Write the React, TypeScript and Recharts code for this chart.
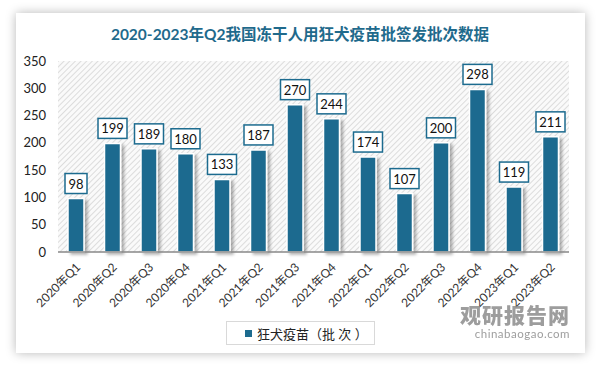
import { BarChart, Bar, XAxis, YAxis, CartesianGrid, LabelList } from "recharts";

const quarters = [
  "2020年Q1", "2020年Q2", "2020年Q3", "2020年Q4",
  "2021年Q1", "2021年Q2", "2021年Q3", "2021年Q4",
  "2022年Q1", "2022年Q2", "2022年Q3", "2022年Q4",
  "2023年Q1", "2023年Q2",
];
const batches = [98, 199, 189, 180, 133, 187, 270, 244, 174, 107, 200, 298, 119, 211];
const yTicks = [0, 50, 100, 150, 200, 250, 300, 350];

const BLUE = "#1c6b8f";
const FONT = "Lato, 'Noto Sans CJK SC', sans-serif";

const data = quarters.map((q, i) => ({ name: q, value: batches[i] }));

function XTick(props: any) {
  const { x, y, payload } = props;
  return (
    <text
      x={x + 5}
      y={y + 8}
      transform={`rotate(-45, ${x + 5}, ${y + 8})`}
      textAnchor="end"
      fontSize={12}
      fill="#333"
      fontFamily={FONT}
    >
      {payload.value}
    </text>
  );
}

function ValueBox(props: any) {
  const { x, y, width, value } = props;
  const s = String(value);
  const w = s.length * 7 + 8;
  const cx = x + width / 2;
  return (
    <g>
      <rect x={cx - w / 2} y={y - 25} width={w} height={20} fill="#fff" stroke={BLUE} strokeWidth={1.5} />
      <text x={cx} y={y - 10} textAnchor="middle" fontSize={13} fill="#111" fontFamily={FONT}>
        {s}
      </text>
    </g>
  );
}

export default function App() {
  return (
    <div style={{ position: "absolute", left: 0, top: 0, width: 600, height: 367, background: "#fff", overflow: "hidden" }}>
      <div
        style={{
          position: "absolute",
          left: 16,
          top: 13,
          width: 569,
          height: 340,
          background: "#fff",
          boxShadow: "0 0 10px rgba(0,0,0,0.28)",
        }}
      />
      <div
        style={{
          position: "absolute",
          left: 0,
          top: 22,
          width: 600,
          textAlign: "center",
          fontFamily: FONT,
          fontWeight: 700,
          fontSize: 15.5,
          color: "#1f6a8c",
        }}
      >
        2020-2023年Q2我国冻干人用狂犬疫苗批签发批次数据
      </div>
      <div style={{ position: "absolute", left: 0, top: 0 }}>
        <BarChart width={600} height={367} data={data} margin={{ top: 61, right: 31, bottom: 85, left: 18 }}>
          <defs>
            <pattern id="hatch" width="4" height="4" patternUnits="userSpaceOnUse" patternTransform="rotate(45)">
              <rect width="4" height="4" fill="#fafafa" />
              <line x1="0" y1="0" x2="0" y2="4" stroke="#d0d0d0" strokeWidth="1.4" />
            </pattern>
            <filter id="barShadow" x="-30%" y="-10%" width="170%" height="130%">
              <feDropShadow dx="3" dy="2" stdDeviation="1.5" floodColor="#000" floodOpacity="0.3" />
            </filter>
          </defs>
          <CartesianGrid horizontal={false} vertical={false} fill="url(#hatch)" />
          <XAxis
            dataKey="name"
            interval={0}
            height={30}
            tickLine={false}
            axisLine={{ stroke: "#888", strokeWidth: 1.5 }}
            tick={<XTick />}
          />
          <YAxis
            width={40}
            domain={[0, 350]}
            ticks={yTicks}
            axisLine={false}
            tickLine={false}
            tickSize={10}
            tick={{ fontSize: 13, fill: "#222", fontFamily: FONT }}
          />
          <Bar
            dataKey="value"
            name="狂犬疫苗（批次）"
            fill={BLUE}
            stroke="#fff"
            strokeWidth={1.5}
            barSize={16}
            filter="url(#barShadow)"
            isAnimationActive={false}
          >
            <LabelList dataKey="value" content={<ValueBox />} />
          </Bar>
        </BarChart>
      </div>
      <div
        style={{
          position: "absolute",
          left: 226,
          top: 321,
          width: 149,
          height: 24,
          border: "1px solid #d9d9d9",
          boxSizing: "border-box",
          display: "flex",
          alignItems: "center",
          paddingLeft: 18,
          fontFamily: FONT,
          fontSize: 13,
          color: "#222",
          whiteSpace: "nowrap",
        }}
      >
        <span style={{ display: "inline-block", width: 7, height: 7, background: BLUE, marginRight: 5 }} />
        狂犬疫苗（批 次 ）
      </div>
      <div
        style={{
          position: "absolute",
          left: 440,
          top: 302,
          fontFamily: FONT,
          color: "#8c8c8c",
          opacity: 0.85,
          textAlign: "right",
          width: 130,
          whiteSpace: "nowrap",
        }}
      >
        <div style={{ fontSize: 21, fontWeight: 900, letterSpacing: 1, lineHeight: "25px" }}>观研报告网</div>
        <div style={{ fontSize: 11.5, lineHeight: "13px", letterSpacing: 0.5 }}>chinabaogao.com</div>
      </div>
    </div>
  );
}
